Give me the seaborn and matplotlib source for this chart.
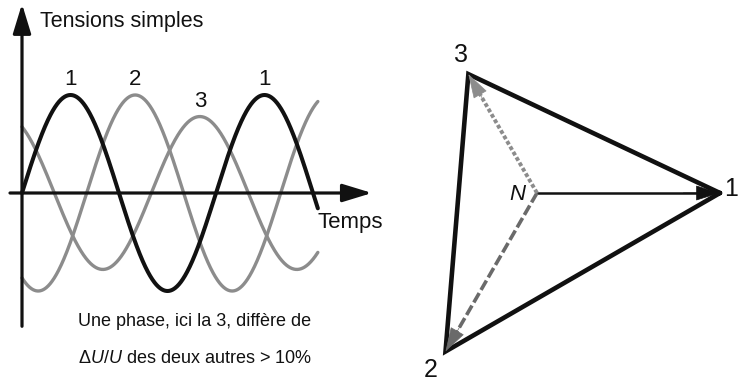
import numpy as np
import pandas as pd
import matplotlib
matplotlib.use("Agg")
import matplotlib.pyplot as plt
import seaborn as sns
from matplotlib import font_manager

# ---------------- data ----------------
phase_names = ["1", "2", "3"]
amplitudes = [1.0, 1.0, 0.78]          # phase 3 is lower
phase_shift_deg = [0, -120, -240]
t_max_deg = 549
peak_labels = ["1", "2", "3", "1"]
peak_label_deg = [90, 210, 330, 450]
peak_label_phase = [0, 1, 2, 0]

vector_names = ["1", "2", "3"]
vector_mag = [1.0, 1.0, 0.75]
vector_ang_deg = [0, 240, 120]

title_text = "Tensions simples"
xlabel_text = "Temps"
note_line1 = "Une phase, ici la 3, diffère de"
note_line2 = r"$\Delta\mathit{U/U}$ des deux autres > 10%"

# ---------------- style ----------------
sns.set_style("white")
names = {f.name for f in font_manager.fontManager.ttflist}
base = "Liberation Sans Narrow" if "Liberation Sans Narrow" in names else "Liberation Sans"
plt.rcParams["font.family"] = [base, "DejaVu Sans"]
plt.rcParams["mathtext.fontset"] = "custom"
plt.rcParams["mathtext.rm"] = base
plt.rcParams["mathtext.it"] = base + ":italic"

BLACK = "#111111"
GRAY = "#8c8c8c"
DGRAY = "#6a6a6a"

fig = plt.figure(figsize=(7.41, 3.83), dpi=100)

# ---------------- left: waveforms ----------------
axL = fig.add_axes([0, 0, 380 / 741, 1])
k = 360 / 194.0
axL.set_xlim((0 - 22) * k, (380 - 22) * k)
axL.set_ylim((193 - 383) / 98.0, (193 - 0) / 98.0)
axL.axis("off")

t = np.linspace(0, t_max_deg, 800)
frames = []
for n, a, p in zip(phase_names, amplitudes, phase_shift_deg):
    frames.append(pd.DataFrame({"t": t, "v": a * np.sin(np.radians(t + p)), "phase": n}))
df = pd.concat(frames)

sns.lineplot(data=df[df.phase != "1"], x="t", y="v", hue="phase",
             palette={"2": GRAY, "3": GRAY}, linewidth=2.4, legend=False,
             ax=axL, sort=False, estimator=None)
sns.lineplot(data=df[df.phase == "1"], x="t", y="v", color=BLACK,
             linewidth=2.9, legend=False, ax=axL, sort=False, estimator=None)

arrow_kw = dict(arrowstyle="-|>,head_length=1.8,head_width=0.55", lw=2.3,
                color=BLACK, mutation_scale=10, shrinkA=0, shrinkB=0)
axL.annotate("", xy=(0, 1.93), xytext=(0, -1.36), arrowprops=arrow_kw)
axL.annotate("", xy=(350 * k, 0), xytext=(-12 * k, 0), arrowprops=arrow_kw)

axL.text(18 * k, (193 - 27) / 98.0, title_text, fontsize=15.5, ha="left",
         va="baseline", color=BLACK)
axL.text(296 * k, (193 - 228) / 98.0, xlabel_text, fontsize=16, ha="left",
         va="baseline", color=BLACK)

for lab, d, pi in zip(peak_labels, peak_label_deg, peak_label_phase):
    axL.text(d, amplitudes[pi] + 0.10, lab, fontsize=16, ha="center",
             va="baseline", color=BLACK)

axL.text(173 * k, (193 - 326) / 98.0, note_line1, fontsize=13, ha="center",
         va="baseline", color=BLACK)
axL.text(173 * k, (193 - 363) / 98.0, note_line2, fontsize=13, ha="center",
         va="baseline", color=BLACK)

# ---------------- right: phasor diagram ----------------
axR = fig.add_axes([400 / 741, 0, 341 / 741, 1])
s = 183.0
axR.set_xlim((400 - 537) / s, (741 - 537) / s)
axR.set_ylim((193 - 383) / s, (193 - 0) / s)
axR.axis("off")

ends = [(m * np.cos(np.radians(a)), m * np.sin(np.radians(a)))
        for m, a in zip(vector_mag, vector_ang_deg)]
tri = pd.DataFrame({"x": [e[0] for e in ends] + [ends[0][0]],
                    "y": [e[1] for e in ends] + [ends[0][1]]})
axR.plot(tri.x, tri.y, color=BLACK, lw=3.3, solid_joinstyle="miter")

styles = {"1": (BLACK, "-", 1.8), "2": (DGRAY, (0, (3, 1)), 2.6), "3": (GRAY, (0, (1, 0.6)), 2.8)}
for n, (ex, ey) in zip(vector_names, ends):
    c, ls, lw = styles[n]
    axR.plot([0, ex * 0.9], [0, ey * 0.9], color=c, ls=ls, lw=lw)
    axR.annotate("", xy=(ex, ey), xytext=(ex * 0.8, ey * 0.8),
                 arrowprops=dict(arrowstyle="-|>,head_length=1.6,head_width=0.5",
                                 lw=0.5, color=c, mutation_scale=10,
                                 shrinkA=0, shrinkB=0))

label_pos = {"1": (1.063, -0.016), "2": (-0.579, -1.005), "3": (-0.415, 0.716)}
for n in vector_names:
    x, y = label_pos[n]
    axR.text(x, y, n, fontsize=18, ha="center", va="baseline", color=BLACK)
axR.text(-0.109, -0.038, "N", fontsize=16, style="italic", ha="center",
         va="baseline", color=BLACK)

fig.savefig("out.png", dpi=100)
